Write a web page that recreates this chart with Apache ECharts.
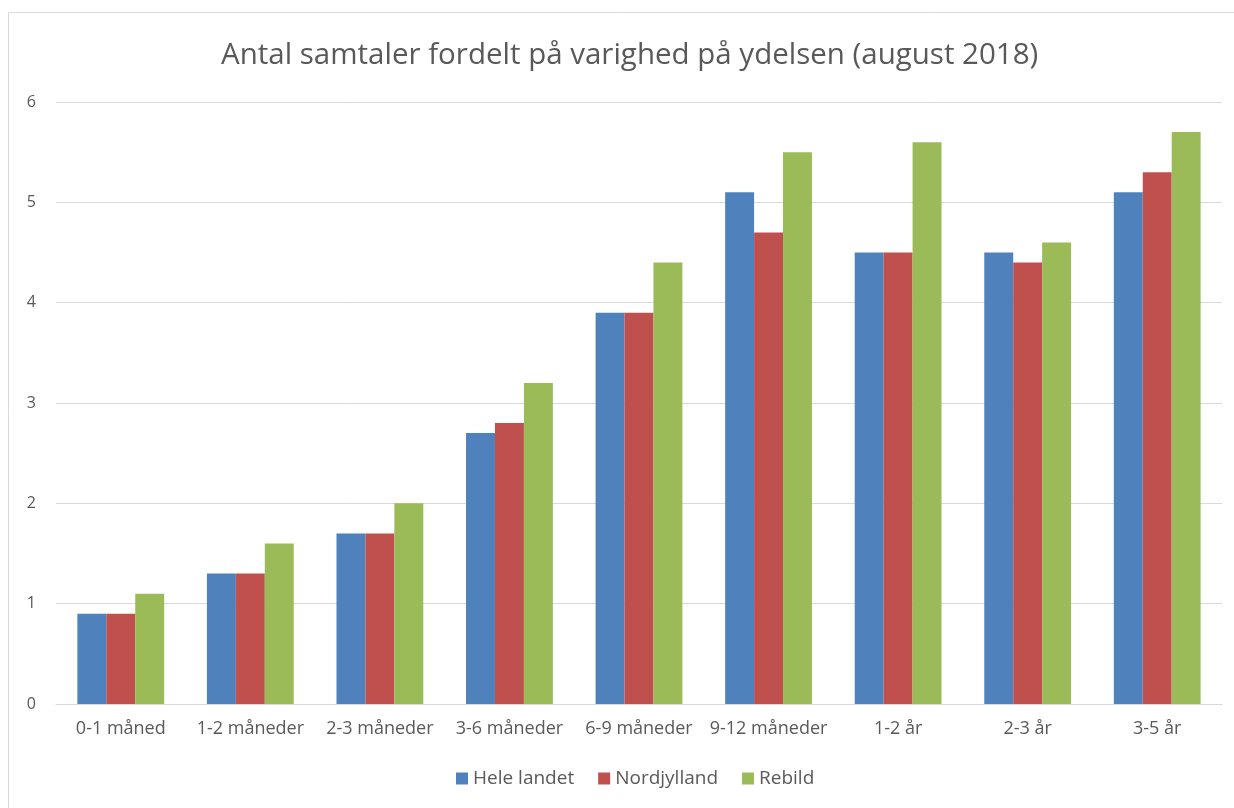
<!DOCTYPE html>
<html>
<head>
<meta charset="utf-8">
<script src="https://cdn.jsdelivr.net/npm/echarts@6/dist/echarts.min.js"></script>
<style>
  html, body { margin: 0; padding: 0; background: #fff; }
  #chart { width: 1234px; height: 808px; }
</style>
</head>
<body>
<div id="chart"></div>
<script>
// data
const categories = ['0-1 måned', '1-2 måneder', '2-3 måneder', '3-6 måneder', '6-9 måneder', '9-12 måneder', '1-2 år', '2-3 år', '3-5 år']
const heleLandet = [0.9, 1.3, 1.7, 2.7, 3.9, 5.1, 4.5, 4.5, 5.1]
const nordjylland = [0.9, 1.3, 1.7, 2.8, 3.9, 4.7, 4.5, 4.4, 5.3]
const rebild = [1.1, 1.6, 2.0, 3.2, 4.4, 5.5, 5.6, 4.6, 5.7]
const yTicks = [0, 1, 2, 3, 4, 5, 6]

const font = '"Open Sans", sans-serif'
const myChart = echarts.init(document.getElementById('chart'))

const option = {
    animation: false,
    textStyle: { fontFamily: font },
    // ramme om diagrammet
    graphic: [{
        type: 'rect',
        shape: { x: 8.5, y: 12.5, width: 1240, height: 820 },
        style: { fill: 'none', stroke: '#d9d9d9', lineWidth: 1 }
    }],
    title: {
        text: 'Antal samtaler fordelt på varighed på ydelsen (august 2018)',
        left: 216,
        top: 36,
        textStyle: { fontSize: 29.5, fontWeight: 'normal', color: '#595959', fontFamily: font }
    },
    legend: {
        bottom: 15,
        left: 451,
        itemWidth: 12,
        itemHeight: 12,
        itemGap: 24,
        icon: 'rect',
        textStyle: { fontSize: 19, color: '#595959', fontFamily: font }
    },
    grid: { left: 56, right: 12, top: 102, bottom: 104 },
    xAxis: {
        type: 'category',
        data: categories,
        axisLine: { lineStyle: { color: '#d9d9d9' } },
        axisTick: { show: false },
        axisLabel: { fontSize: 18, color: '#595959', margin: 16, fontFamily: font, interval: 0 }
    },
    yAxis: {
        type: 'value',
        min: yTicks[0],
        max: yTicks[yTicks.length - 1],
        interval: 1,
        axisLine: { show: false },
        axisTick: { show: false },
        axisLabel: { fontSize: 16, color: '#595959', margin: 20, fontFamily: font },
        splitLine: { lineStyle: { color: '#d9d9d9' } }
    },
    series: [
        { name: 'Hele landet', type: 'bar', data: heleLandet, barGap: 0, barCategoryGap: '33%', itemStyle: { color: '#4F81BD' } },
        { name: 'Nordjylland', type: 'bar', data: nordjylland, itemStyle: { color: '#C0504D' } },
        { name: 'Rebild', type: 'bar', data: rebild, itemStyle: { color: '#9BBB59' } }
    ]
}

myChart.setOption(option)
</script>
</body>
</html>
